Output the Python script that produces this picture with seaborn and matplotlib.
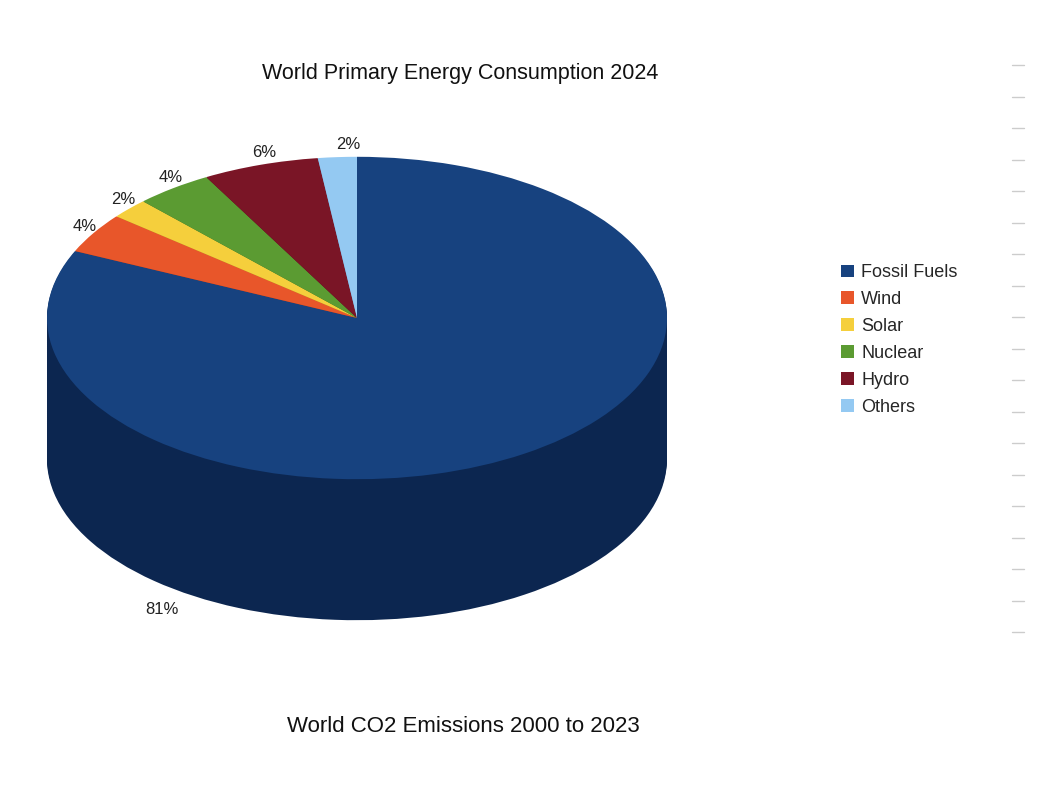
# World primary energy consumption 2024 -- 3D style pie
import numpy as np
import seaborn as sns
import matplotlib.pyplot as plt
from matplotlib.patches import Patch

sns.set_theme(style="white")
plt.rcParams["font.family"] = ["Liberation Sans", "DejaVu Sans"]

# ── Data ──────────────────────────────────────────────────────────────────────
sources = ["Fossil Fuels", "Wind", "Solar", "Nuclear", "Hydro", "Others"]
shares  = [81, 4, 2, 4, 6, 2]
colors  = ["#17427f", "#e8562a", "#f5cf3c", "#5b9b32", "#7a1526", "#94c9f2"]
side    = ["#0c2650", "#9a3519", "#a88b22", "#3b6620", "#4e0d18", "#5f8ab0"]

# ── Geometry (pixel coords, y squashed, y measured upward) ────────────────────
H      = 798
SQ     = 0.52          # vertical squash of the pie ellipse
CX, CY = 357, 318      # top face centre (pixels from top)
RAD    = 310
DEPTH  = 141


def yd(py):
    """pixel row (from top) -> data y"""
    return (H - py) / SQ


fig = plt.figure(figsize=(10.5, 7.98), dpi=100)
ax = fig.add_axes([0, 0, 1, 1])

# side wall: stack of darker pies
for d in np.linspace(DEPTH, 1, 70):
    ax.pie(shares, colors=side, startangle=90, counterclock=False,
           center=(CX, yd(CY + d)), radius=RAD, frame=True,
           wedgeprops={"linewidth": 0})

# top face
wedges, texts = ax.pie(
    shares, colors=colors, startangle=90, counterclock=False,
    center=(CX, yd(CY)), radius=RAD, frame=True,
    labels=[f"{s}%" for s in shares], labeldistance=1.08,
    wedgeprops={"linewidth": 0},
    textprops={"fontsize": 12, "color": "#222222"},
)
texts[0].set_position((162, yd(610)))   # fossil label sits below the wall
texts[0].set_ha("center")

ax.set_aspect("auto")
ax.set_xlim(0, 1050)
ax.set_ylim(0, H / SQ)
ax.set_axis_off()

# ── Texts ─────────────────────────────────────────────────────────────────────
fig.text(460 / 1050, 1 - 73 / H, "World Primary Energy Consumption 2024",
         ha="center", va="center", fontsize=15.5, color="#111111")
fig.text(463 / 1050, 1 - 727 / H, "World CO2 Emissions 2000 to 2023",
         ha="center", va="center", fontsize=16, color="#111111")

handles = [Patch(facecolor=c, edgecolor="none") for c in colors]
fig.legend(handles, sources, loc="center left",
           bbox_to_anchor=(825 / 1050, 1 - 340 / H), frameon=False,
           fontsize=13, handlelength=0.7, handleheight=0.7,
           handletextpad=0.4, labelspacing=0.55)

# faint ticks on the far right
for y in np.arange(65, 640, 31.5):
    ax.plot([1012, 1024], [yd(y), yd(y)], color="#cccccc", lw=1)

fig.savefig("out.png", dpi=100)
